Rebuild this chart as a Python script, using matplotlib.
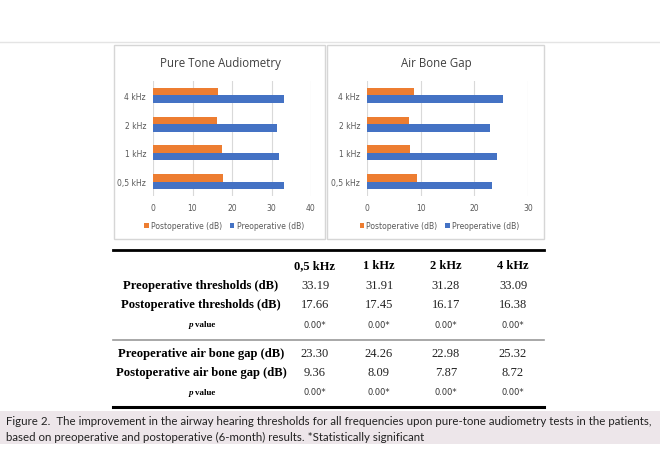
import matplotlib.pyplot as plt
from matplotlib.patches import Rectangle
from matplotlib.lines import Line2D
import numpy as np

# data
freqs = ['0,5 kHz', '1 kHz', '2 kHz', '4 kHz']
pta_pre = [33.19, 31.91, 31.28, 33.09]
pta_post = [17.66, 17.45, 16.17, 16.38]
abg_pre = [23.30, 24.26, 22.98, 25.32]
abg_post = [9.36, 8.09, 7.87, 8.72]
p_values = ['0.00*', '0.00*', '0.00*', '0.00*']

ORANGE = '#ed7d31'
BLUE = '#4472c4'
W, H = 660, 460

fig = plt.figure(figsize=(6.6, 4.6), dpi=100)
fig.patch.set_facecolor('white')


def fx(x):
    return x / W


def fy(y):
    return 1 - y / H


def box(x0, y0, x1, y1, **kw):
    fig.add_artist(Rectangle((fx(x0), fy(y1)), fx(x1) - fx(x0), fy(y0) - fy(y1),
                             transform=fig.transFigure, zorder=-1, **kw))


def hline(y, x0, x1, **kw):
    fig.add_artist(Line2D([fx(x0), fx(x1)], [fy(y), fy(y)], transform=fig.transFigure, **kw))


# page decorations
hline(43, 0, 659, color='#e4e4e4', lw=1)
box(114, 46, 325, 240, facecolor='white', edgecolor='#d6d6d6', lw=1)
box(327, 46, 544, 240, facecolor='white', edgecolor='#d6d6d6', lw=1)


def bar_chart(x0, x1, xmax, title, tcx, pre, post):
    ax = fig.add_axes([fx(x0), fy(197), fx(x1) - fx(x0), fy(82) - fy(197)])
    ax.patch.set_alpha(0)
    y = np.arange(len(freqs))
    ax.barh(y + 0.13, post, height=0.26, color=ORANGE, label='Postoperative (dB)', zorder=3)
    ax.barh(y - 0.13, pre, height=0.26, color=BLUE, label='Preoperative (dB)', zorder=3)
    ax.set_xlim(0, xmax)
    ax.set_ylim(-0.5, 3.5)
    ax.set_xticks(np.arange(0, xmax + 1, 10))
    ax.set_yticks(y)
    ax.set_yticklabels(freqs)
    ax.grid(axis='x', color='#d9d9d9', lw=0.8, zorder=0)
    for s in ax.spines.values():
        s.set_visible(False)
    ax.tick_params(length=0, labelsize=5.5, labelcolor='#595959', pad=5)
    ax.tick_params(axis='x', pad=5)
    ax.legend(loc='upper center', bbox_to_anchor=(0.45, -0.16), ncol=2, frameon=False,
              fontsize=5.5, handlelength=0.6, handleheight=0.6, handletextpad=0.3,
              columnspacing=1.0, labelcolor='#595959')
    fig.text(fx(tcx), fy(63), title, ha='center', va='center', fontsize=8.3,
             color='#404040', family='Open Sans')
    return ax


bar_chart(153, 311, 40, 'Pure Tone Audiometry', 220, pta_pre, pta_post)
bar_chart(367, 528, 30, 'Air Bone Gap', 436, abg_pre, abg_post)

# table
hline(251, 113, 544, color='black', lw=2)
hline(341, 113, 544, color='#9a9a9a', lw=1.2)
hline(408, 113, 544, color='black', lw=2.2)

col_x = [315, 379, 446, 513]
lab_x = 201
serif = 'Liberation Serif'
for cx, f in zip(col_x, freqs):
    fig.text(fx(cx), fy(266), f, ha='center', va='center', fontsize=9,
             fontweight='bold', family=serif)

rows = [
    (286, 'Preoperative thresholds (dB)', ['%.2f' % v for v in pta_pre]),
    (305, 'Postoperative thresholds (dB)', ['%.2f' % v for v in pta_post]),
    (354, 'Preoperative air bone gap (dB)', ['%.2f' % v for v in abg_pre]),
    (373, 'Postoperative air bone gap (dB)', ['%.2f' % v for v in abg_post]),
]
for ry, label, vals in rows:
    fig.text(fx(lab_x), fy(ry), label, ha='center', va='center', fontsize=9.1,
             fontweight='bold', family=serif)
    for cx, v in zip(col_x, vals):
        fig.text(fx(cx), fy(ry), v, ha='center', va='center', fontsize=9,
                 family=serif, color='#222222')

for ry in [325, 393]:
    fig.text(fx(lab_x - 8), fy(ry), 'p', ha='right', va='center', fontsize=6.5,
             fontweight='bold', fontstyle='italic', family=serif)
    fig.text(fx(lab_x - 6), fy(ry), 'value', ha='left', va='center', fontsize=6.5,
             fontweight='bold', family=serif)
    for cx, v in zip(col_x, p_values):
        fig.text(fx(cx), fy(ry), v, ha='center', va='center', fontsize=6,
                 family='DejaVu Sans', color='#333333')

# caption
box(0, 412, 660, 445, facecolor='#ede6ea', edgecolor='none')
fig.text(fx(6), fy(422), 'Figure 2.  The improvement in the airway hearing thresholds for all '
         'frequencies upon pure-tone audiometry tests in the patients,',
         ha='left', va='center', fontsize=8.3, family='Lato', color='#222222')
fig.text(fx(6), fy(437), 'based on preoperative and postoperative (6-month) results. '
         '*Statistically significant',
         ha='left', va='center', fontsize=8.3, family='Lato', color='#222222')

fig.savefig('out.png', dpi=100)
